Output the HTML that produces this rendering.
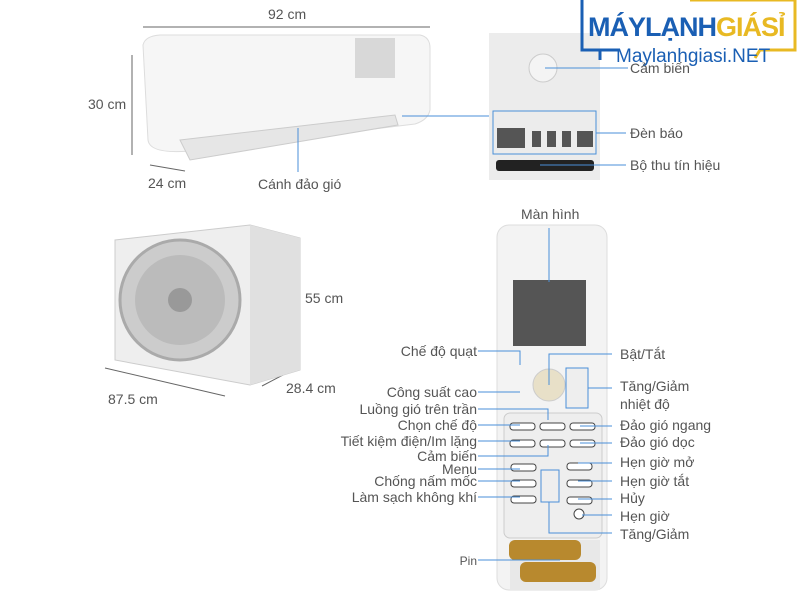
<!DOCTYPE html><html><head><meta charset="utf-8"><style>
body{margin:0;width:800px;height:600px;background:#fff;position:relative;overflow:hidden;font-family:"Liberation Sans",sans-serif}
.t{position:absolute;font-size:14px;color:#555;white-space:nowrap;line-height:16px}
.r{text-align:right}
.a{position:absolute}
</style></head><body>
<svg class="a" style="left:0;top:0" width="800" height="600">
<!-- indoor unit -->
<path d="M143 45 Q145 36 160 35 L420 35 Q430 37 430 48 L430 110 Q428 120 415 124 L200 150 Q150 156 148 140 Z" fill="#f6f6f6" stroke="#ddd"/>
<path d="M180 140 L395 115 L398 125 L190 160 Z" fill="#e6e6e6" stroke="#ccc"/>
<rect x="355" y="38" width="40" height="40" fill="#d8d8d8"/>
<!-- dims -->
<g stroke="#666" stroke-width="1" fill="none">
<line x1="143" y1="27" x2="430" y2="27"/><line x1="132" y1="55" x2="132" y2="155"/><line x1="150" y1="165" x2="185" y2="171"/>
<line x1="296" y1="240" x2="296" y2="360"/><line x1="105" y1="368" x2="225" y2="396"/><line x1="262" y1="386" x2="300" y2="366"/>
</g>
<line x1="298" y1="128" x2="298" y2="172" stroke="#4a8fd8"/>
<line x1="402" y1="116" x2="492" y2="116" stroke="#4a8fd8"/>
<!-- outdoor -->
<path d="M115 240 L250 225 L300 238 L300 370 L250 385 L115 360 Z" fill="#eee" stroke="#ccc"/>
<path d="M250 225 L300 238 L300 370 L250 385 Z" fill="#e0e0e0"/>
<circle cx="180" cy="300" r="60" fill="#ccc" stroke="#aaa" stroke-width="3"/>
<circle cx="180" cy="300" r="45" fill="#bbb"/>
<circle cx="180" cy="300" r="12" fill="#999"/>
<!-- panel -->
<rect x="489" y="33" width="111" height="147" fill="#ececec"/>
<circle cx="543" cy="68" r="14" fill="#f4f4f4" stroke="#ccc"/>
<line x1="545" y1="68" x2="628" y2="68" stroke="#4a8fd8"/>
<rect x="493" y="111" width="103" height="43" fill="none" stroke="#4a8fd8"/>
<rect x="497" y="128" width="28" height="20" fill="#555"/><rect x="532" y="131" width="9" height="16" fill="#555"/><rect x="547" y="131" width="9" height="16" fill="#555"/><rect x="562" y="131" width="9" height="16" fill="#555"/><rect x="577" y="131" width="16" height="16" fill="#555"/>
<line x1="596" y1="133" x2="626" y2="133" stroke="#4a8fd8"/>
<rect x="496" y="160" width="98" height="11" rx="3" fill="#222"/>
<line x1="540" y1="165" x2="626" y2="165" stroke="#4a8fd8"/>
<!-- remote -->
<rect x="497" y="225" width="110" height="365" rx="12" fill="#f3f3f3" stroke="#ddd"/>
<rect x="513" y="280" width="73" height="66" fill="#555"/>
<line x1="549" y1="228" x2="549" y2="282" stroke="#4a8fd8"/>
<circle cx="549" cy="385" r="16" fill="#e8e0c8" stroke="#ccc"/>
<rect x="566" y="368" width="22" height="40" fill="#eee" stroke="#4a8fd8"/>
<rect x="504" y="413" width="98" height="125" rx="6" fill="#eee" stroke="#ccc"/>
<g fill="#fff" stroke="#444">
<rect x="510" y="423" width="25" height="7" rx="3"/><rect x="540" y="423" width="25" height="7" rx="3"/><rect x="570" y="423" width="25" height="7" rx="3"/>
<rect x="510" y="440" width="25" height="7" rx="3"/><rect x="540" y="440" width="25" height="7" rx="3"/><rect x="570" y="440" width="25" height="7" rx="3"/>
<rect x="511" y="464" width="25" height="7" rx="3"/><rect x="511" y="480" width="25" height="7" rx="3"/><rect x="511" y="496" width="25" height="7" rx="3"/>
<rect x="567" y="463" width="25" height="7" rx="3"/><rect x="567" y="480" width="25" height="7" rx="3"/><rect x="567" y="497" width="25" height="7" rx="3"/>
<circle cx="579" cy="514" r="5"/></g>
<rect x="541" y="470" width="18" height="32" fill="#eee" stroke="#4a8fd8"/>
<rect x="510" y="540" width="90" height="50" fill="#e8e8e8"/>
<rect x="509" y="540" width="72" height="20" rx="6" fill="#b8892e"/><rect x="520" y="562" width="76" height="20" rx="6" fill="#b8892e"/>
<g stroke="#4a8fd8" fill="none">
<path d="M478 351 H520 V365"/><path d="M478 392 H520"/><path d="M478 409 H548 V420"/><path d="M478 425 H520"/><path d="M478 441 H520"/><path d="M478 456 H548 V445"/><path d="M478 469 H520"/><path d="M478 481 H520"/><path d="M478 497 H520"/><path d="M478 560 H560"/>
<path d="M549 385 V354 H612"/><path d="M588 388 H612"/><path d="M580 426 H612"/><path d="M580 443 H612"/><path d="M578 463 H612"/><path d="M578 481 H612"/><path d="M578 499 H612"/><path d="M582 515 H612"/><path d="M549 502 V533 H612"/>
</g>
<!-- logo -->
<path d="M582 0 V50 H600 V60 M600 50 H620" stroke="#1a5fb4" stroke-width="3" fill="none"/>
<path d="M690 0 H795 V50 H760 L755 58" stroke="#e8b923" stroke-width="3" fill="none"/>
</svg>
<div class="t" style="left:268px;top:6px">92 cm</div>
<div class="t" style="left:88px;top:96px">30 cm</div>
<div class="t" style="left:148px;top:175px">24 cm</div>
<div class="t" style="left:258px;top:176px">Cánh đảo gió</div>
<div class="t" style="left:305px;top:290px">55 cm</div>
<div class="t" style="left:108px;top:391px">87.5 cm</div>
<div class="t" style="left:286px;top:380px">28.4 cm</div>
<div class="a" style="left:588px;top:12px;font:bold 27px 'Liberation Sans',sans-serif;color:#1a5fb4;letter-spacing:-1px">MÁYLẠNH<span style="color:#e8b923">GIÁSỈ</span></div>
<div class="a" style="left:616px;top:46px;font-size:19px;color:#1a5fb4">Maylanhgiasi.NET</div>
<div class="t" style="left:630px;top:60px">Cảm biến</div>
<div class="t" style="left:630px;top:125px">Đèn báo</div>
<div class="t" style="left:630px;top:157px">Bộ thu tín hiệu</div>
<div class="t" style="left:521px;top:206px">Màn hình</div>
<div class="t" style="left:620px;top:346px">Bật/Tắt</div>
<div class="t" style="left:620px;top:377px;line-height:18px">Tăng/Giảm<br>nhiệt độ</div>
<div class="t" style="left:620px;top:417px">Đảo gió ngang</div>
<div class="t" style="left:620px;top:434px">Đảo gió dọc</div>
<div class="t" style="left:620px;top:454px">Hẹn giờ mở</div>
<div class="t" style="left:620px;top:473px">Hẹn giờ tắt</div>
<div class="t" style="left:620px;top:490px">Hủy</div>
<div class="t" style="left:620px;top:508px">Hẹn giờ</div>
<div class="t" style="left:620px;top:526px">Tăng/Giảm</div>
<div class="t r" style="right:323px;top:343px">Chế độ quạt</div>
<div class="t r" style="right:323px;top:384px">Công suất cao</div>
<div class="t r" style="right:323px;top:401px">Luồng gió trên trần</div>
<div class="t r" style="right:323px;top:417px">Chọn chế độ</div>
<div class="t r" style="right:323px;top:433px">Tiết kiệm điện/Im lặng</div>
<div class="t r" style="right:323px;top:448px">Cảm biến</div>
<div class="t r" style="right:323px;top:461px">Menu</div>
<div class="t r" style="right:323px;top:473px">Chống nấm mốc</div>
<div class="t r" style="right:323px;top:489px">Làm sạch không khí</div>
<div class="t r" style="right:323px;top:553px;font-size:12px">Pin</div>
</body></html>
